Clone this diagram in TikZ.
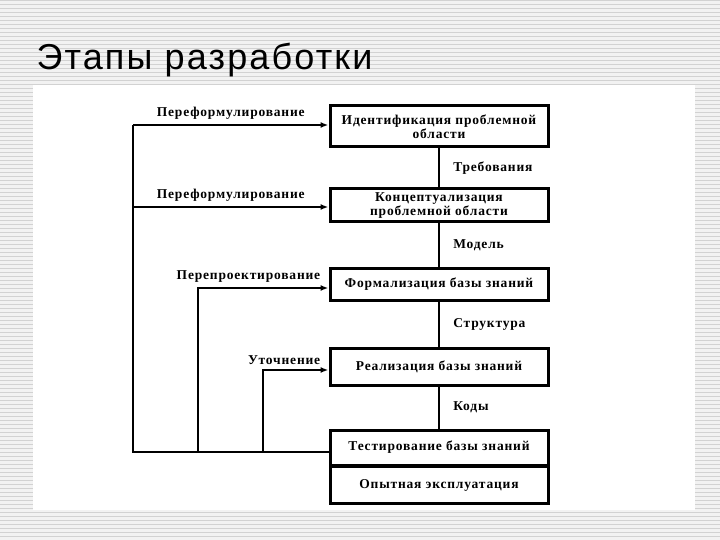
\documentclass[tikz,border=0pt]{standalone}
\usepackage{fontspec}
\setmainfont{Liberation Serif}[LetterSpace=6]
\newfontfamily\titlefont{Liberation Sans}[LetterSpace=6]
\usetikzlibrary{arrows.meta}
\begin{document}
\begin{tikzpicture}[x=1pt,y=-1pt,
  box/.style={draw,line width=3pt,fill=white,minimum width=218pt,align=center,font=\fontsize{13.5}{14}\selectfont\bfseries,inner sep=0pt},
  lbl/.style={font=\fontsize{13.5}{14}\selectfont\bfseries,inner sep=1pt},
  ln/.style={line width=2.6pt},
  arr/.style={line width=2.6pt,-{Latex[length=8pt,width=6pt]}}]
\useasboundingbox (0,0) rectangle (720,540);
\fill[gray!10] (0,0) rectangle (720,540);
\foreach \i in {0,4,...,540} \draw[gray!35,line width=0.8pt] (0,\i) -- (720,\i);
\fill[white] (33,85) rectangle (695,510);
\node[anchor=west,font=\titlefont\fontsize{36}{40}\selectfont] (title) at (33,60) {Этапы разработки};
\node[box,minimum height=41pt] (b1) at (439,126.5) {Идентификация проблемной\\области};
\node[box,minimum height=33pt] (b2) at (439,205.5) {Концептуализация\\проблемной области};
\node[box,minimum height=32pt] (b3) at (439,284) {Формализация базы знаний};
\node[box,minimum height=37pt] (b4) at (439,366.5) {Реализация базы знаний};
\node[box,minimum height=35pt] (b5) at (439,447.5) {Тестирование базы знаний};
\node[box,minimum height=37pt,anchor=north] (b6) at ([yshift=1.5pt]b5.south) {Опытная эксплуатация};
\draw[ln] (b1) -- (b2) node[lbl,midway,right=12pt] {Требования};
\draw[ln] (b2) -- (b3) node[lbl,midway,right=12pt] {Модель};
\draw[ln] (b3) -- (b4) node[lbl,midway,right=12pt] {Структура};
\draw[ln] (b4) -- (b5) node[lbl,midway,right=12pt] {Коды};
\coordinate (c0) at (330,452);
\coordinate (c1) at (133,452);
\coordinate (c2) at (198,452);
\coordinate (c3) at (263,452);
\draw[ln] (c0) -- (c1) -- (133,125);
\draw[arr] (133,125) -- (b1.west |- 0,125) node[lbl,midway,above=3pt] {Переформулирование};
\draw[arr] (133,207) -- (b2.west |- 0,207) node[lbl,midway,above=3pt] {Переформулирование};
\draw[arr] (c2) -- (198,288) -- (b3.west |- 0,288) node[lbl,pos=1,anchor=south east,xshift=-6pt,yshift=3pt] {Перепроектирование};
\draw[arr] (c3) -- (263,370) -- (b4.west |- 0,370) node[lbl,pos=1,anchor=south east,xshift=-6pt,yshift=3pt] {Уточнение};
\end{tikzpicture}
\end{document}
